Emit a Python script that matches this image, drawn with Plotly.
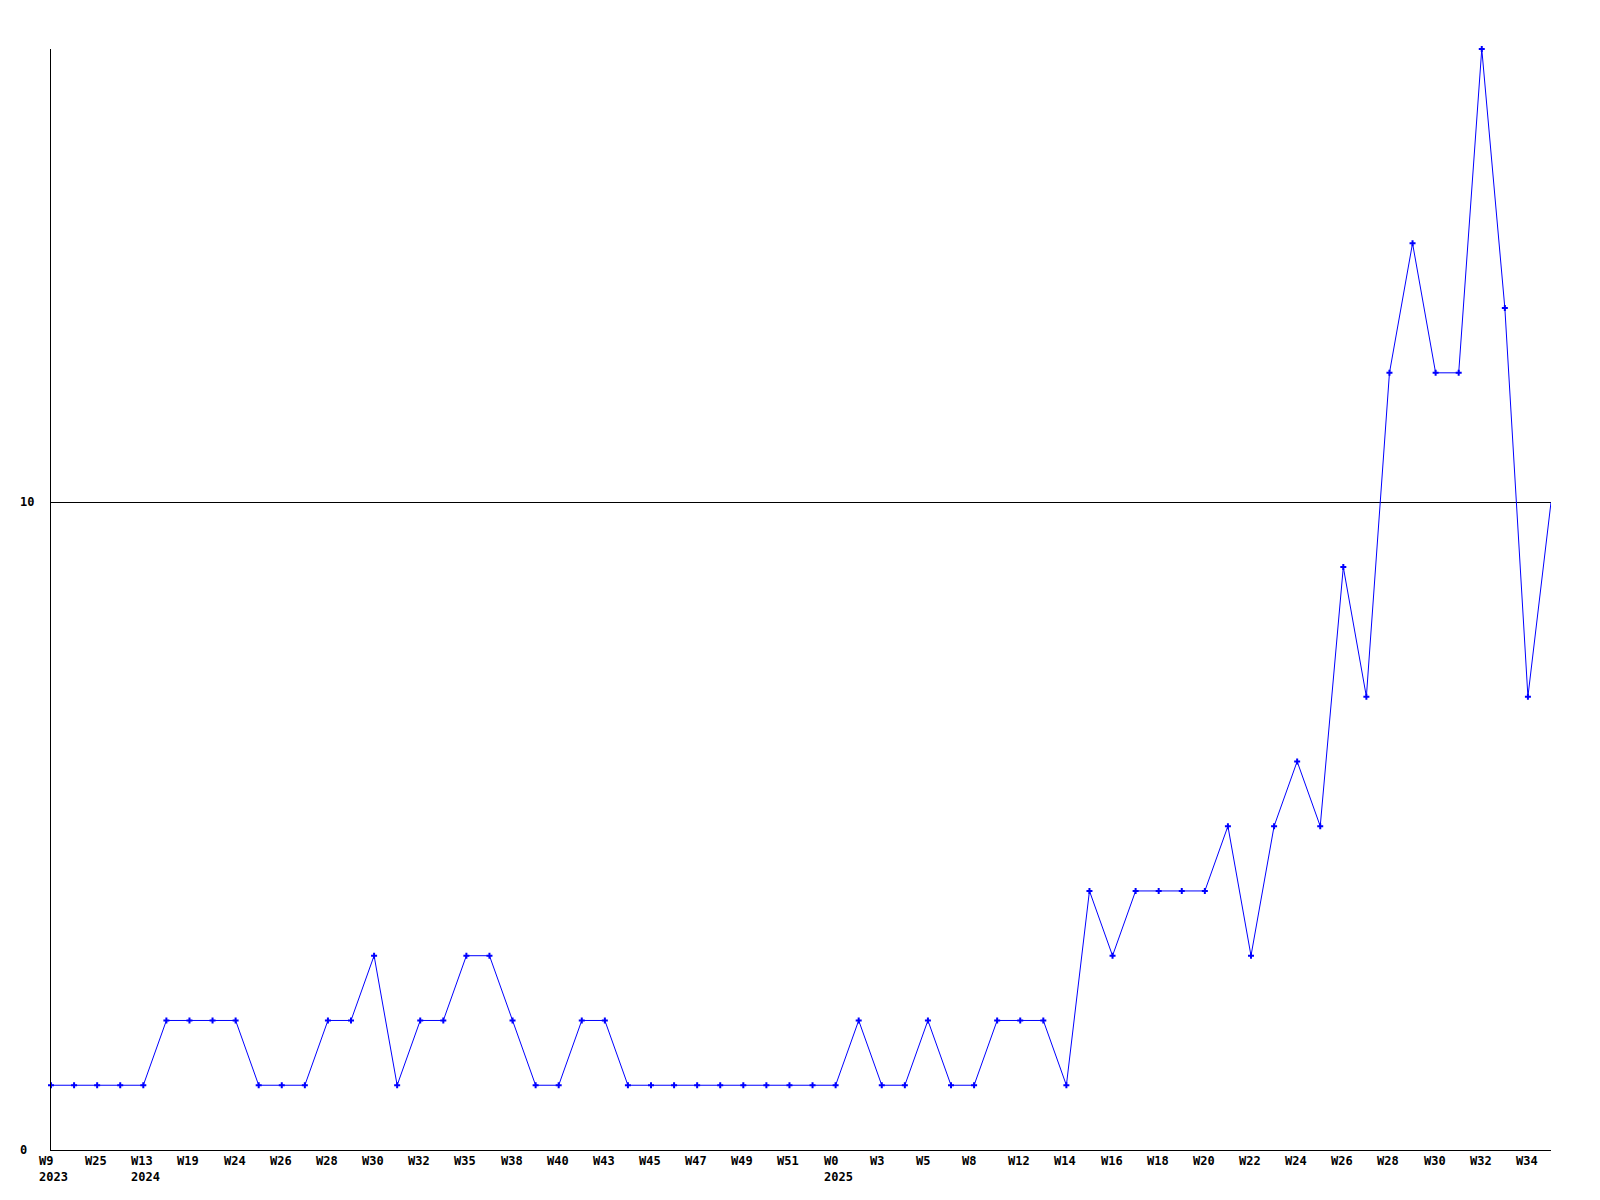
import plotly.graph_objects as go

values = [1, 1, 1, 1, 1, 2, 2, 2, 2, 1, 1, 1, 2, 2, 3, 1, 2, 2, 3, 3,
          2, 1, 1, 2, 2, 1, 1, 1, 1, 1, 1, 1, 1, 1, 1, 2, 1, 1, 2, 1,
          1, 2, 2, 2, 1, 4, 3, 4, 4, 4, 4, 5, 3, 5, 6, 5, 9, 7, 12, 14,
          12, 12, 17, 13, 7, 10]
tick_labels = ["W9<br>2023", "W25", "W13<br>2024", "W19", "W24", "W26", "W28", "W30",
               "W32", "W35", "W38", "W40", "W43", "W45", "W47", "W49", "W51",
               "W0<br>2025", "W3", "W5", "W8", "W12", "W14", "W16", "W18", "W20",
               "W22", "W24", "W26", "W28", "W30", "W32", "W34"]
y_ticks = [0, 10]

x = list(range(len(values)))
tick_pos = [i * 2 for i in range(len(tick_labels))]

FONT = dict(family="DejaVu Sans Mono", size=12, color="black")

fig = go.Figure()
fig.add_trace(go.Scatter(
    x=x[:-1], y=values[:-1], mode="lines+markers",
    line=dict(color="#0000ff", width=1),
    marker=dict(symbol="cross", size=5, color="#0000ff",
                line=dict(width=0)),
    cliponaxis=False,
    showlegend=False, hoverinfo="skip"))
fig.add_trace(go.Scatter(
    x=x[-2:], y=values[-2:], mode="lines",
    line=dict(color="#0000ff", width=1),
    showlegend=False, hoverinfo="skip"))

annotations = []
for p, t in zip(tick_pos, tick_labels):
    annotations.append(dict(x=p, y=0, xref="x", yref="y", text="<b>" + t + "</b>",
                            showarrow=False, xanchor="left", yanchor="top",
                            align="left", xshift=-14, yshift=-2, font=FONT))
for v in y_ticks:
    annotations.append(dict(x=0, y=v, xref="paper", yref="y", text="<b>" + str(v) + "</b>",
                            showarrow=False, xanchor="left", yanchor="middle",
                            xshift=-33, font=FONT))

fig.update_layout(
    width=1600, height=1200,
    margin=dict(l=43, r=57, t=41, b=58),
    paper_bgcolor="white", plot_bgcolor="white",
    annotations=annotations,
    xaxis=dict(range=[0, len(values) - 1], showgrid=False, zeroline=False,
               showline=True, linecolor="black", linewidth=1,
               showticklabels=False, ticks=""),
    yaxis=dict(range=[0, 17], tickvals=[10], showgrid=True, gridcolor="black",
               gridwidth=1, zeroline=False, showline=True, linecolor="black",
               linewidth=1, showticklabels=False, ticks=""),
)

fig.write_html("out.html")
